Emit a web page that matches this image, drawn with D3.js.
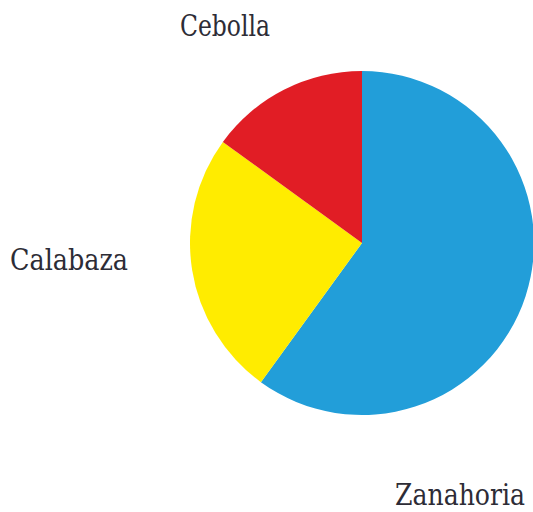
<!DOCTYPE html>
<html>
<head>
<meta charset="utf-8">
<script src="https://cdn.jsdelivr.net/npm/d3@7"></script>
<style>
  body { margin: 0; background: #fff; }
  svg { display: block; }
</style>
</head>
<body>
<div id="chart"></div>
<script>
// Vegetable shares
const categories = ['Zanahoria', 'Calabaza', 'Cebolla'];
const values = [60, 25, 15];
const colors = ['#229ed9', '#ffec00', '#e11d25'];

// label spots, page coords
const labelPos = {
  Zanahoria: [460, 505, 130],
  Calabaza: [69, 270, 118],
  Cebolla: [225, 36, 90]
};

const width = 533, height = 512;
const cx = 362, cy = 243, radius = 172;

const svg = d3.select('#chart')
  .append('svg')
  .attr('width', width)
  .attr('height', height);

const data = categories.map((c, i) => ({ name: c, value: values[i], color: colors[i] }));

const pie = d3.pie()
  .value(d => d.value)
  .sort(null);

const arc = d3.arc()
  .innerRadius(0)
  .outerRadius(radius);

const g = svg.append('g')
  .attr('transform', `translate(${cx},${cy})`);

g.selectAll('path')
  .data(pie(data))
  .join('path')
  .attr('d', arc)
  .attr('fill', d => d.data.color);

// Labels
svg.selectAll('text.label')
  .data(data)
  .join('text')
  .attr('class', 'label')
  .attr('x', d => labelPos[d.name][0])
  .attr('y', d => labelPos[d.name][1])
  .attr('text-anchor', 'middle')
  .attr('font-family', '"DejaVu Serif Condensed", "DejaVu Serif", serif')
  .attr('font-size', '29px')
  .attr('fill', '#2d2c36')
  .attr('textLength', d => labelPos[d.name][2])
  .attr('lengthAdjust', 'spacingAndGlyphs')
  .text(d => d.name);
</script>
</body>
</html>
